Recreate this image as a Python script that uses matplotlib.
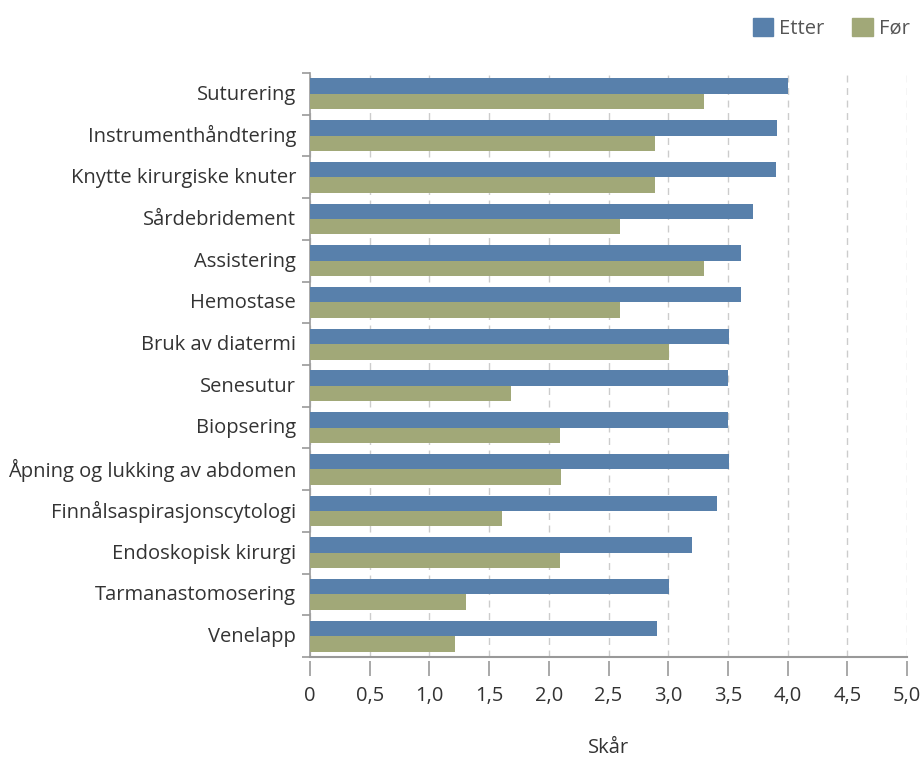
import matplotlib.pyplot as plt
import numpy as np
from matplotlib.patches import Patch

plt.rcParams['font.family'] = ['Open Sans', 'DejaVu Sans']

# data
kategorier = ['Suturering', 'Instrumenthåndtering', 'Knytte kirurgiske knuter',
              'Sårdebridement', 'Assistering', 'Hemostase', 'Bruk av diatermi',
              'Senesutur', 'Biopsering', 'Åpning og lukking av abdomen',
              'Finnålsaspirasjonscytologi', 'Endoskopisk kirurgi',
              'Tarmanastomosering', 'Venelapp']
etter = [4.0, 3.91, 3.90, 3.71, 3.61, 3.61, 3.51, 3.50, 3.50, 3.51, 3.41, 3.20, 3.01, 2.91]
foer = [3.30, 2.89, 2.89, 2.60, 3.30, 2.60, 3.01, 1.68, 2.09, 2.10, 1.61, 2.09, 1.31, 1.21]
xticks = [0, 0.5, 1.0, 1.5, 2.0, 2.5, 3.0, 3.5, 4.0, 4.5, 5.0]
xticklabels = ['0', '0,5', '1,0', '1,5', '2,0', '2,5', '3,0', '3,5', '4,0', '4,5', '5,0']

blaa = '#5880ab'
groenn = '#a1a878'
tekst = '#333333'
graa = '#999999'
fs = 14.5

fig = plt.figure(figsize=(9.23, 7.58), dpi=100)
ax = fig.add_axes([0.3359, 0.1332, 0.6468, 0.7705])

# spines først - set_position nullstiller tick-oppsettet
for s in ['top', 'right']:
    ax.spines[s].set_visible(False)
ax.spines['left'].set_color(graa)
ax.spines['left'].set_linewidth(1.2)
# bunnlinje med litt luft mellom linje og tick-streker
ax.spines['bottom'].set_position(('outward', 3))
ax.spines['bottom'].set_visible(False)

y = np.arange(len(kategorier))
h = 0.37
ax.barh(y - h / 2, etter, height=h, color=blaa, zorder=3)
ax.barh(y + h / 2, foer, height=h, color=groenn, zorder=3)

ax.set_ylim(len(kategorier) - 0.5, -0.5)
ax.set_xlim(0, 5)
ax.axhline(len(kategorier) - 0.5, color=graa, linewidth=1.5, clip_on=False, zorder=4)

# kategori-navn midt i hver gruppe, tick-streker mellom gruppene
ax.set_yticks(y - 0.04)
ax.set_yticklabels(kategorier, fontsize=fs, color=tekst)
ax.tick_params(axis='y', length=0, pad=10)
ax.set_yticks(np.arange(len(kategorier) + 1) - 0.5, minor=True)
ax.tick_params(axis='y', which='minor', length=6, color=graa, width=1.2)

ax.set_xticks(xticks)
ax.set_xticklabels(xticklabels, fontsize=fs, color=tekst)
ax.tick_params(axis='x', length=11, color=graa, width=1.2, pad=7)

ax.grid(axis='x', color='#cccccc', linestyle=(0, (5, 4)), linewidth=1, zorder=0)

ax.set_xlabel('Skår', fontsize=fs, color=tekst, va='center')
ax.xaxis.set_label_coords(0.5, -0.156)

handles = [Patch(color=blaa, label='Etter'), Patch(color=groenn, label='Før')]
fig.legend(handles=handles, loc='upper right', bbox_to_anchor=(1.005, 1.0), ncol=2,
           frameon=False, fontsize=fs, handlelength=1.0, handleheight=1.0,
           handletextpad=0.3, columnspacing=1.4, labelcolor='#555555')

fig.savefig('out.png', dpi=100)
